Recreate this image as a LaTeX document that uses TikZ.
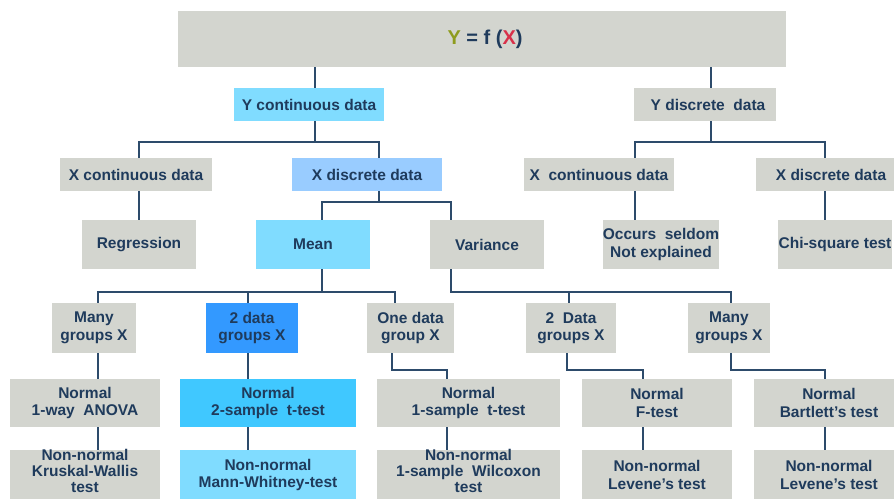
\documentclass[tikz,border=0pt]{standalone}
\usepackage{fontspec}
\setmainfont{Liberation Sans}
\definecolor{gfill}{HTML}{D3D5CF}
\definecolor{cyanf}{HTML}{80DCFF}
\definecolor{lblue}{HTML}{99CCFF}
\definecolor{dblue}{HTML}{3399FF}
\definecolor{mblue}{HTML}{40C8FF}
\definecolor{txt}{HTML}{1F3B5C}
\definecolor{linec}{HTML}{2D4B6B}
\definecolor{ycol}{HTML}{8E9C1E}
\definecolor{xcol}{HTML}{D8304A}
\tikzset{
  bx/.style={rectangle, inner sep=0pt, align=center, fill=gfill, text=txt,
    font=\bfseries\fontsize{15.5}{17.5}\selectfont},
  tonly/.style={inner sep=0pt, align=center, text=txt,
    font=\bfseries\fontsize{15.5}{16}\selectfont},
  conn/.style={draw=linec, line width=2pt}
}
\begin{document}
\begin{tikzpicture}[x=1pt,y=-1pt]
\useasboundingbox (0,0) rectangle (894,498);
\clip (0,0) rectangle (894,498);
\fill[white] (0,0) rectangle (894,498);
% boxes
\node[bx, minimum width=608pt, minimum height=56pt, font=\bfseries\fontsize{20}{22}\selectfont] (top) at (482,39)
  {\hspace*{6pt}\textcolor{ycol}{Y} = f (\textcolor{xcol}{X})};
\node[bx, fill=cyanf, minimum width=150pt, minimum height=33pt] (ycont) at (309,104.5) {Y continuous data};
\node[bx, minimum width=142pt, minimum height=33pt] (ydisc) at (705,104.5) {\hspace*{6pt}Y discrete~ data};
\node[bx, minimum width=152pt, minimum height=33pt] (xcontL) at (136,174.5) {X continuous data};
\node[bx, fill=lblue, minimum width=150pt, minimum height=33pt] (xdiscL) at (367,174.5) {X discrete data};
\node[bx, minimum width=150pt, minimum height=33pt] (xcontR) at (599,174.5) {X~ continuous data};
\node[bx, minimum width=150pt, minimum height=33pt] (xdiscR) at (831,174.5) {X discrete data};
\node[bx, minimum width=114pt, minimum height=49pt] (regr) at (139,244.5) {Regression};
\node[bx, fill=cyanf, minimum width=114pt, minimum height=49pt] (mean) at (313,244.5) {Mean};
\node[bx, minimum width=114pt, minimum height=49pt] (var) at (487,244.5) {Variance};
\node[bx, minimum width=114pt, minimum height=49pt] (occurs) at (661,244.5) {Occurs~ seldom\\Not explained};
\node[bx, minimum width=114pt, minimum height=49pt] (chi) at (835,244.5) {Chi-square test};
\node[bx, minimum width=84pt, minimum height=50pt] (manyL) at (94,328) {Many\\groups X};
\node[bx, fill=dblue, minimum width=92pt, minimum height=50pt] (two) at (252,328) {2 data\\groups X};
\node[bx, minimum width=87pt, minimum height=50pt] (one) at (410.5,328) {One data\\group X};
\node[bx, minimum width=90pt, minimum height=50pt] (twoD) at (571,328) {2~ Data\\groups X};
\node[bx, minimum width=82pt, minimum height=50pt] (manyR) at (729,328) {Many\\groups X};
\node[bx, minimum width=150pt, minimum height=48pt] (anova) at (85,403) {Normal\\1-way~ ANOVA};
\node[bx, fill=mblue, minimum width=176pt, minimum height=48pt] (t2) at (268,403) {Normal\\2-sample~ t-test};
\node[bx, minimum width=183pt, minimum height=48pt] (t1) at (468.5,403) {Normal\\1-sample~ t-test};
\node[bx, minimum width=150pt, minimum height=48pt] (ftest) at (657,403) {Normal\\F-test};
\node[bx, minimum width=150pt, minimum height=48pt] (bart) at (829,403) {Normal\\Bartlett's test};
\node[bx, minimum width=150pt, minimum height=50pt] (kw) at (85,475) {};
\node[bx, fill=cyanf, minimum width=176pt, minimum height=50pt] (mw) at (268,475) {Non-normal\\Mann-Whitney-test};
\node[bx, minimum width=183pt, minimum height=50pt] (wil) at (468.5,475) {};
\node[bx, minimum width=150pt, minimum height=50pt] (lev1) at (657,475) {Non-normal\\Levene's test};
\node[bx, minimum width=150pt, minimum height=50pt] (lev2) at (829,475) {Non-normal\\Levene's test};
% straight connectors
\draw[conn] ([xshift=-167pt]top.south) -- ([xshift=6pt]ycont.north);
\draw[conn] ([xshift=229pt]top.south) -- ([xshift=6pt]ydisc.north);
\draw[conn] ([xshift=3pt]xcontL.south) -- (regr.north);
\draw[conn] ([xshift=36pt]xcontR.south) -- ([xshift=-26pt]occurs.north);
\draw[conn] ([xshift=-6pt]xdiscR.south) -- ([xshift=-10pt]chi.north);
\draw[conn] ([xshift=4pt]manyL.south) -- ([xshift=13pt]anova.north);
\draw[conn] ([xshift=-4pt]two.south) -- ([xshift=-20pt]t2.north);
\draw[conn] ([xshift=13pt]anova.south) -- ([xshift=13pt]kw.north);
\draw[conn] ([xshift=-20pt]t2.south) -- ([xshift=-20pt]mw.north);
\draw[conn] ([xshift=-21.5pt]t1.south) -- ([xshift=-21.5pt]wil.north);
\draw[conn] ([xshift=-14pt]ftest.south) -- ([xshift=-14pt]lev1.north);
\draw[conn] ([xshift=-4pt]bart.south) -- ([xshift=-4pt]lev2.north);
% three-line texts (drawn over their boxes)
\node[tonly] (kwt) at (85,471) {Non-normal\\Kruskal-Wallis\\test};
\node[tonly] (wilt) at (468.5,471) {Non-normal\\1-sample~ Wilcoxon\\test};
% forks
\draw[conn] ([xshift=6pt]ycont.south) -- ++(0,21) -| ([xshift=3pt]xcontL.north);
\draw[conn] ([xshift=6pt]ycont.south) -- ++(0,21) -| ([xshift=12pt]xdiscL.north);
\draw[conn] ([xshift=6pt]ydisc.south) -- ++(0,21) -| ([xshift=36pt]xcontR.north);
\draw[conn] ([xshift=6pt]ydisc.south) -- ++(0,21) -| ([xshift=-6pt]xdiscR.north);
\draw[conn] ([xshift=12pt]xdiscL.south) -- ++(0,11) -| ([xshift=9pt]mean.north);
\draw[conn] ([xshift=12pt]xdiscL.south) -- ++(0,11) -| ([xshift=-36pt]var.north);
\draw[conn] ([xshift=9pt]mean.south) -- ++(0,23) -| ([xshift=4pt]manyL.north);
\draw[conn] ([xshift=9pt]mean.south) -- ++(0,23) -| ([xshift=-4pt]two.north);
\draw[conn] ([xshift=9pt]mean.south) -- ++(0,23) -| ([xshift=-15.5pt]one.north);
\draw[conn] ([xshift=-36pt]var.south) -- ++(0,23) -| ([xshift=-2pt]twoD.north);
\draw[conn] ([xshift=-36pt]var.south) -- ++(0,23) -| ([xshift=2pt]manyR.north);
% elbows
\draw[conn] ([xshift=-18.5pt]one.south) -- ++(0,17) -| ([xshift=-21.5pt]t1.north);
\draw[conn] ([xshift=-4pt]twoD.south) -- ++(0,17) -| ([xshift=-14pt]ftest.north);
\draw[conn] ([xshift=2pt]manyR.south) -- ++(0,17) -| ([xshift=-4pt]bart.north);
\end{tikzpicture}
\end{document}
